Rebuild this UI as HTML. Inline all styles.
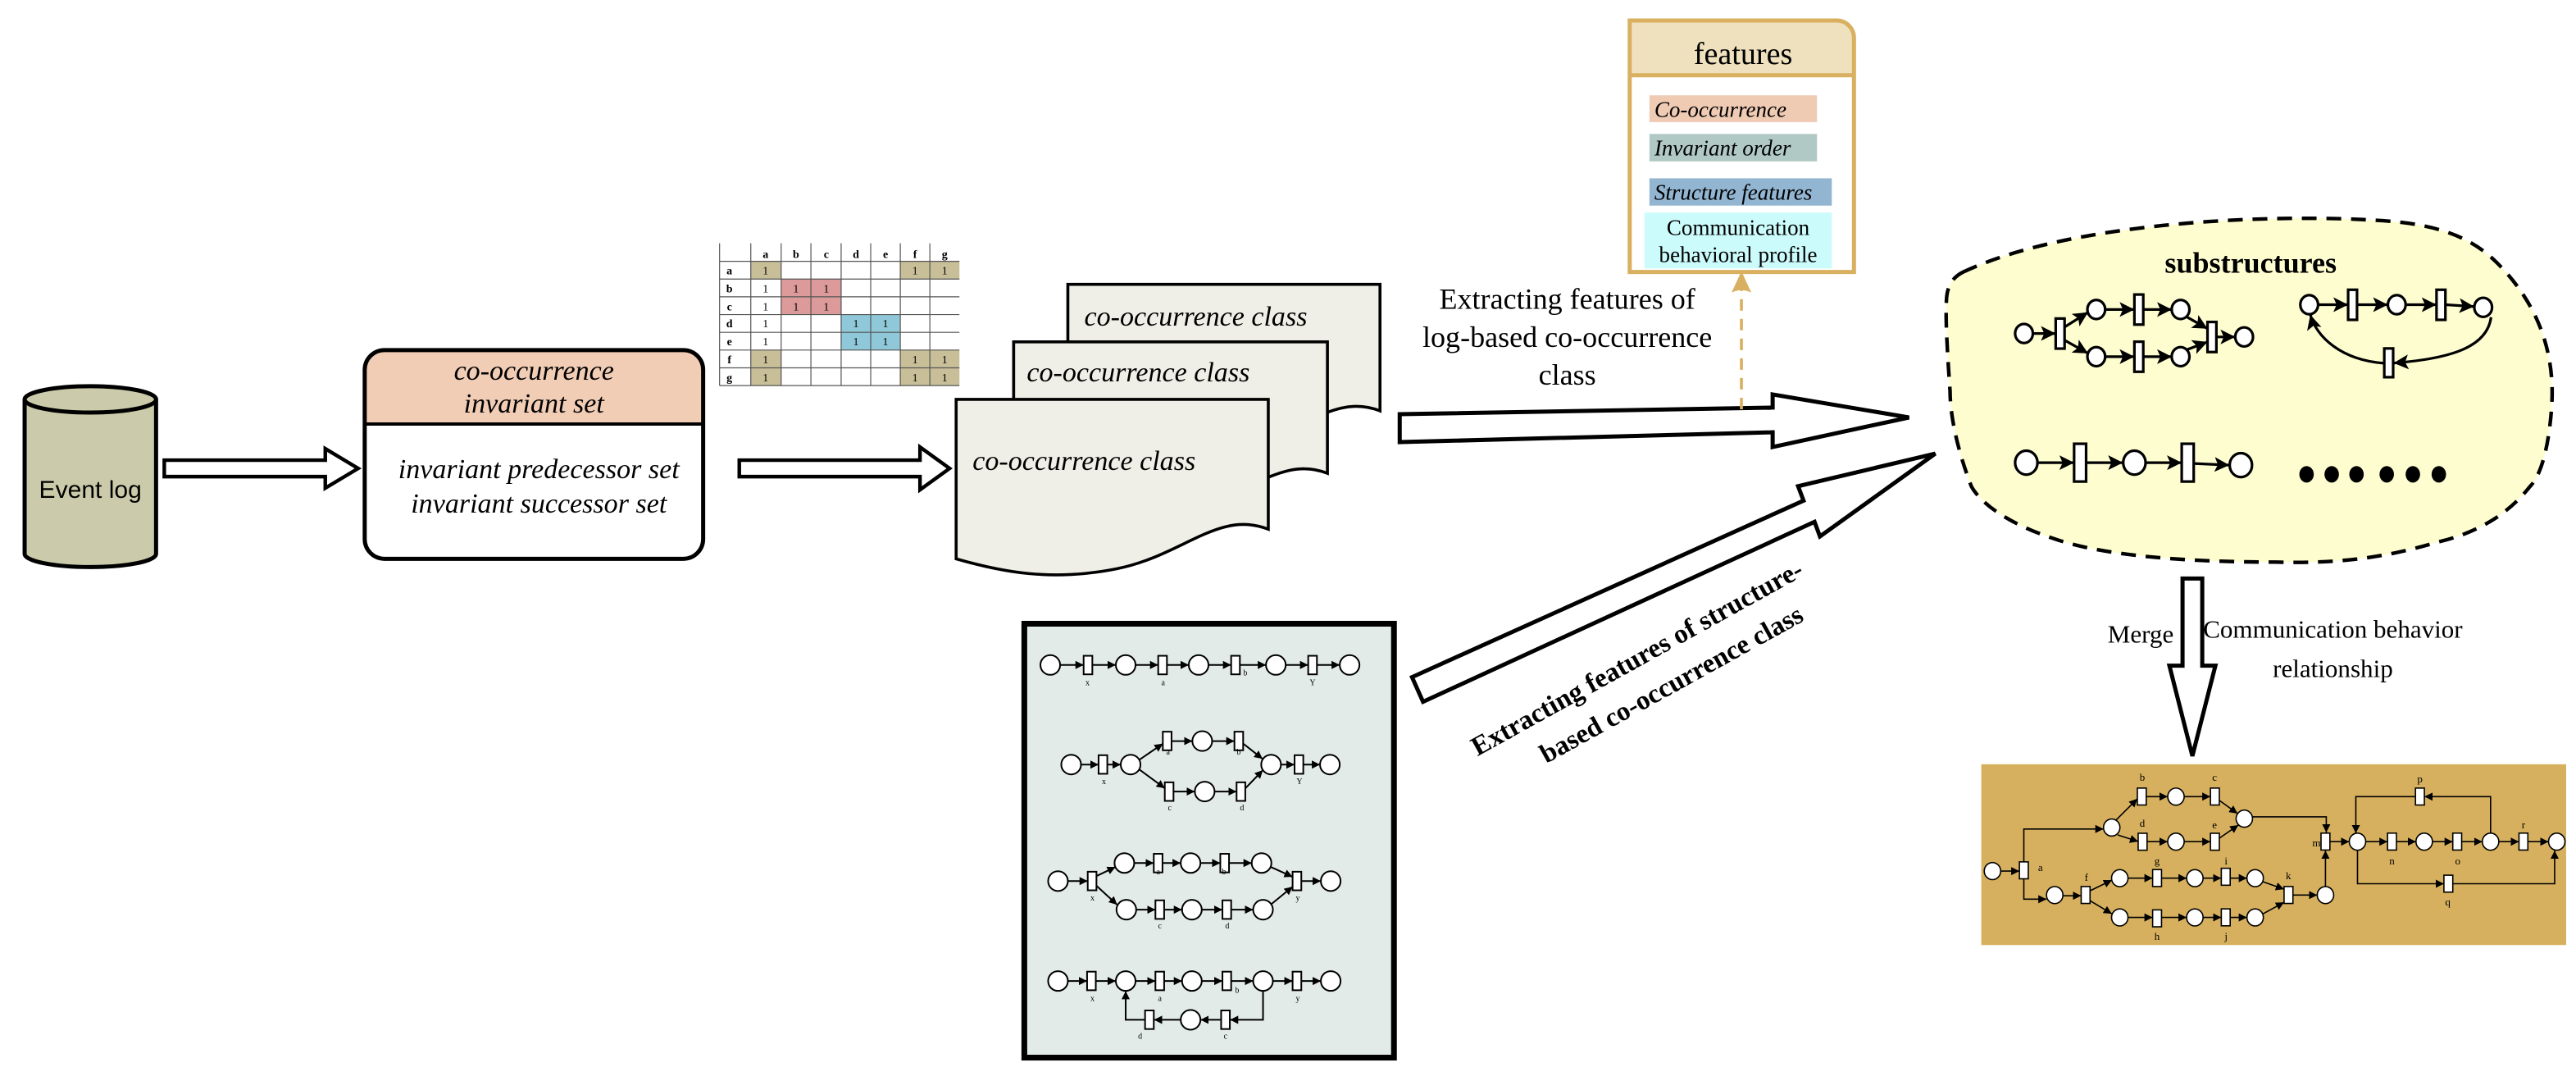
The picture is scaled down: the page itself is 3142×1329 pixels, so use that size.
<!DOCTYPE html>
<html><head><meta charset="utf-8"><style>
html,body{margin:0;padding:0;background:#fff;}
svg{display:block;}
text{font-family:"Liberation Serif",serif;}
.s{font-family:"Liberation Sans",sans-serif;}
</style></head><body>
<svg width="3142" height="1329" viewBox="0 0 1568 663.2" preserveAspectRatio="none" xmlns="http://www.w3.org/2000/svg">
<defs>
<marker id="m" markerUnits="userSpaceOnUse" markerWidth="6" markerHeight="6" refX="5" refY="3" orient="auto"><path d="M0,0.5 L5,3 L0,5.5Z" fill="#000"/></marker>
<marker id="mb" markerUnits="userSpaceOnUse" markerWidth="10" markerHeight="10" refX="9" refY="5" orient="auto"><path d="M0,0.5 L9,5 L0,9.5 L2,5Z" fill="#000"/></marker>
</defs>
<rect width="1568" height="663.2" fill="#fff"/>

<!-- Event log cylinder -->
<path d="M15,243 V337 A40,8 0 0 0 95,337 V243" fill="#cbcbab" stroke="#000" stroke-width="2.5"/>
<ellipse cx="55" cy="243" rx="40" ry="8" fill="#cbcbab" stroke="#000" stroke-width="2.5"/>
<text x="55" y="303" class="s" font-size="15" text-anchor="middle">Event log</text>

<polygon points="100,280 198,280 198,273 218,285 198,297 198,290 100,290" fill="#fff" stroke="#000" stroke-width="2.2"/>

<!-- co-occurrence box -->
<path d="M234,213 H416 A12,12 0 0 1 428,225 V258 H222 V225 A12,12 0 0 1 234,213Z" fill="#f2cdb6"/>
<rect x="222" y="213" width="206" height="127" rx="12" fill="none" stroke="#000" stroke-width="2.5"/>
<line x1="222" y1="258" x2="428" y2="258" stroke="#000" stroke-width="2"/>
<text x="325" y="231" font-size="17" font-style="italic" text-anchor="middle">co-occurrence</text>
<text x="325" y="251" font-size="17" font-style="italic" text-anchor="middle">invariant set</text>
<text x="328" y="291" font-size="17" font-style="italic" text-anchor="middle">invariant predecessor set</text>
<text x="328" y="312" font-size="17" font-style="italic" text-anchor="middle">invariant successor set</text>

<!-- matrix -->
<g>
<rect x="457" y="159" width="18.5" height="10.8" fill="#c8bf98"/>
<rect x="457" y="213" width="18.5" height="21.6" fill="#c8bf98"/>
<rect x="548" y="159" width="36" height="10.8" fill="#c8bf98"/>
<rect x="475.5" y="169.8" width="36.5" height="21.6" fill="#dc9a9a"/>
<rect x="512" y="191.4" width="36" height="21.6" fill="#8fc8d8"/>
<rect x="548" y="213" width="36" height="21.6" fill="#c8bf98"/>
<g stroke="#555" stroke-width="0.6">
<line x1="438" y1="148" x2="438" y2="234.6"/><line x1="457" y1="148" x2="457" y2="234.6"/><line x1="475.5" y1="148" x2="475.5" y2="234.6"/><line x1="493.6" y1="148" x2="493.6" y2="234.6"/><line x1="512" y1="148" x2="512" y2="234.6"/><line x1="530" y1="148" x2="530" y2="234.6"/><line x1="548" y1="148" x2="548" y2="234.6"/><line x1="566" y1="148" x2="566" y2="234.6"/>
<line x1="438" y1="159" x2="584" y2="159"/><line x1="438" y1="169.8" x2="584" y2="169.8"/><line x1="438" y1="180.6" x2="584" y2="180.6"/><line x1="438" y1="191.4" x2="584" y2="191.4"/><line x1="438" y1="202.2" x2="584" y2="202.2"/><line x1="438" y1="213" x2="584" y2="213"/><line x1="438" y1="223.8" x2="584" y2="223.8"/><line x1="438" y1="234.6" x2="584" y2="234.6"/>
</g>
<g font-size="7" font-weight="bold" text-anchor="middle">
<text x="466" y="157">a</text><text x="484.5" y="157">b</text><text x="503" y="157">c</text><text x="521" y="157">d</text><text x="539" y="157">e</text><text x="557" y="157">f</text><text x="575" y="157">g</text>
<text x="444" y="167">a</text><text x="444" y="178">b</text><text x="444" y="189">c</text><text x="444" y="199">d</text><text x="444" y="210">e</text><text x="444" y="221">f</text><text x="444" y="232">g</text>
</g>
<g font-size="7" text-anchor="middle">
<text x="466" y="167">1</text><text x="557" y="167">1</text><text x="575" y="167">1</text>
<text x="466" y="178">1</text><text x="484.5" y="178">1</text><text x="503" y="178">1</text>
<text x="466" y="189">1</text><text x="484.5" y="189">1</text><text x="503" y="189">1</text>
<text x="466" y="199">1</text><text x="521" y="199">1</text><text x="539" y="199">1</text>
<text x="466" y="210">1</text><text x="521" y="210">1</text><text x="539" y="210">1</text>
<text x="466" y="221">1</text><text x="557" y="221">1</text><text x="575" y="221">1</text>
<text x="466" y="232">1</text><text x="557" y="232">1</text><text x="575" y="232">1</text>
</g>
</g>

<polygon points="450,280 560,280 560,272 578,285 560,298 560,290 450,290" fill="#fff" stroke="#000" stroke-width="2.2"/>

<!-- documents -->
<path d="M650,173 H840 V250 C810,238 790,268 745,272 C700,276 670,268 650,262 Z" fill="#efefe7" stroke="#000" stroke-width="1.8"/>
<text x="660" y="198" font-size="17" font-style="italic">co-occurrence class</text>
<path d="M617,208 H808 V288 C778,276 758,306 712,310 C668,314 640,305 617,298 Z" fill="#efefe7" stroke="#000" stroke-width="1.8"/>
<text x="625" y="232" font-size="17" font-style="italic">co-occurrence class</text>
<path d="M582,243 H772 V322 C742,310 720,338 680,346 C640,354 610,348 582,340 Z" fill="#efefe7" stroke="#000" stroke-width="1.8"/>
<text x="592" y="286" font-size="17" font-style="italic">co-occurrence class</text>

<!-- big arrow 1 -->
<polygon points="852,252 1079,248 1079,240 1162,254 1079,272 1079,263 852,269" fill="#fff" stroke="#000" stroke-width="2.5"/>
<text x="954" y="188" font-size="18" text-anchor="middle">Extracting features of</text>
<text x="954" y="211" font-size="18" text-anchor="middle">log-based co-occurrence</text>
<text x="954" y="234" font-size="18" text-anchor="middle">class</text>
<line x1="1060" y1="249" x2="1060" y2="176" stroke="#d8b060" stroke-width="1.8" stroke-dasharray="7,5"/>
<path d="M1060,165 L1066,178 Q1060,175 1054,178Z" fill="#d8b060"/>

<!-- features -->
<path d="M992,12.5 H1118 A10.5,10.5 0 0 1 1128.5,23 V45.8 H992Z" fill="#efe1bd"/>
<path d="M992,12.5 H1118 A10.5,10.5 0 0 1 1128.5,23 V165.5 H992Z" fill="none" stroke="#d8b060" stroke-width="2.5"/>
<line x1="992" y1="45.8" x2="1128.5" y2="45.8" stroke="#d8b060" stroke-width="2.5"/>
<text x="1061" y="39" font-size="19" text-anchor="middle">features</text>
<rect x="1004" y="58" width="102" height="16.3" fill="#f0cbb4"/>
<text x="1007" y="71" font-size="13.5" font-style="italic">Co-occurrence</text>
<rect x="1004" y="81.5" width="102" height="16.7" fill="#b0c9c4"/>
<text x="1007" y="94.5" font-size="13.5" font-style="italic">Invariant order</text>
<rect x="1004" y="108.5" width="111" height="16.6" fill="#92b5d2"/>
<text x="1007" y="121.5" font-size="13.5" font-style="italic">Structure features</text>
<rect x="1001" y="129.3" width="114" height="34" fill="#ccfbfb"/>
<text x="1058" y="143" font-size="13.5" text-anchor="middle">Communication</text>
<text x="1058" y="159.5" font-size="13.5" text-anchor="middle">behavioral profile</text>

<!-- diagonal arrow -->
<polygon points="859.5,412 1097.8,304.6 1094.5,295.8 1178,276 1107.8,326.4 1104.5,317.5 866.2,427" fill="#fff" stroke="#000" stroke-width="2.5"/>
<text transform="translate(999,405) rotate(-29)" font-size="16.5" font-weight="bold" text-anchor="middle">Extracting features of structure-</text>
<text transform="translate(1020,421) rotate(-29)" font-size="16.5" font-weight="bold" text-anchor="middle">based co-occurrence class</text>

<!-- petri box -->
<rect x="623.5" y="379.5" width="225" height="264" fill="#e3ebe8" stroke="#000" stroke-width="3.5"/>
<g stroke="#000" stroke-width="1" fill="#fff">
<!-- net1 -->
<g fill="none" marker-end="url(#m)">
<line x1="645.3" y1="404.6" x2="659.6" y2="404.6"/><line x1="665" y1="404.6" x2="679.2" y2="404.6"/>
<line x1="691.2" y1="404.6" x2="705" y2="404.6"/><line x1="710.4" y1="404.6" x2="723.6" y2="404.6"/>
<line x1="735.6" y1="404.6" x2="749.4" y2="404.6"/><line x1="754.8" y1="404.6" x2="770.6" y2="404.6"/>
<line x1="782.6" y1="404.6" x2="796.3" y2="404.6"/><line x1="801.7" y1="404.6" x2="815.5" y2="404.6"/>
</g>
<circle cx="639.3" cy="404.6" r="6"/><circle cx="685.2" cy="404.6" r="6"/><circle cx="729.6" cy="404.6" r="6"/><circle cx="776.6" cy="404.6" r="6"/><circle cx="821.5" cy="404.6" r="6"/>
<rect x="659.6" y="399" width="5.3" height="11.3"/><rect x="705" y="399" width="5.3" height="11.3"/><rect x="749.4" y="399" width="5.3" height="11.3"/><rect x="796.3" y="399" width="5.3" height="11.3"/>
<!-- net2 -->
<g fill="none" marker-end="url(#m)">
<line x1="658" y1="465.2" x2="668.7" y2="465.2"/><line x1="674" y1="465.2" x2="682.2" y2="465.2"/>
<line x1="693.5" y1="462.3" x2="707.8" y2="452.5"/><line x1="693.5" y1="468.2" x2="709" y2="479.6"/>
<line x1="713.2" y1="450.9" x2="725.8" y2="450.9"/><line x1="737.8" y1="450.9" x2="751.4" y2="450.9"/>
<line x1="714.5" y1="481.6" x2="727.3" y2="481.6"/><line x1="739.3" y1="481.6" x2="752.7" y2="481.6"/>
<line x1="756.8" y1="452.5" x2="768.5" y2="461.7"/><line x1="758.1" y1="479.6" x2="768.7" y2="468.6"/>
<line x1="779.7" y1="465.2" x2="788" y2="465.2"/><line x1="793.4" y1="465.2" x2="803.5" y2="465.2"/>
</g>
<circle cx="652" cy="465.2" r="6"/><circle cx="688.2" cy="465.2" r="6"/><circle cx="731.8" cy="450.9" r="6"/><circle cx="733.3" cy="481.6" r="6"/><circle cx="773.7" cy="465.2" r="6"/><circle cx="809.5" cy="465.2" r="6"/>
<rect x="668.7" y="459.5" width="5.3" height="11.3"/><rect x="707.8" y="445.2" width="5.3" height="11.3"/><rect x="751.4" y="445.2" width="5.3" height="11.3"/><rect x="709" y="476" width="5.3" height="11.3"/><rect x="752.7" y="476" width="5.3" height="11.3"/><rect x="788" y="459.5" width="5.3" height="11.3"/>
<!-- net3 -->
<g fill="none" marker-end="url(#m)">
<line x1="650" y1="536.1" x2="662.1" y2="536.1"/>
<line x1="667.5" y1="533" x2="679" y2="527.5"/><line x1="667.5" y1="539" x2="680" y2="550.5"/>
<line x1="690.4" y1="525.1" x2="702.3" y2="525.1"/><line x1="707.7" y1="525.1" x2="718.7" y2="525.1"/><line x1="730.7" y1="525.1" x2="742.8" y2="525.1"/><line x1="748.2" y1="525.1" x2="761.9" y2="525.1"/>
<line x1="691.6" y1="553.5" x2="703.3" y2="553.5"/><line x1="708.7" y1="553.5" x2="719.5" y2="553.5"/><line x1="731.5" y1="553.5" x2="744.1" y2="553.5"/><line x1="749.5" y1="553.5" x2="762.8" y2="553.5"/>
<line x1="773.5" y1="527.5" x2="786.8" y2="533.5"/><line x1="774" y1="550" x2="786.8" y2="539.5"/>
<line x1="792.2" y1="536.1" x2="804" y2="536.1"/>
</g>
<circle cx="644" cy="536.1" r="6"/><circle cx="684.4" cy="525.1" r="6"/><circle cx="724.7" cy="525.1" r="6"/><circle cx="767.9" cy="525.1" r="6"/><circle cx="685.6" cy="553.5" r="6"/><circle cx="725.5" cy="553.5" r="6"/><circle cx="768.8" cy="553.5" r="6"/><circle cx="810" cy="536.1" r="6"/>
<rect x="662.1" y="530.4" width="5.3" height="11.3"/><rect x="702.3" y="519.5" width="5.3" height="11.3"/><rect x="742.8" y="519.5" width="5.3" height="11.3"/><rect x="703.3" y="547.8" width="5.3" height="11.3"/><rect x="744.1" y="547.8" width="5.3" height="11.3"/><rect x="786.8" y="530.4" width="5.3" height="11.3"/>
<!-- net4 -->
<g fill="none" marker-end="url(#m)">
<line x1="650" y1="596.9" x2="661.7" y2="596.9"/><line x1="667.1" y1="596.9" x2="679.2" y2="596.9"/>
<line x1="691.2" y1="596.9" x2="703.3" y2="596.9"/><line x1="708.7" y1="596.9" x2="719.5" y2="596.9"/>
<line x1="731.5" y1="596.9" x2="744.1" y2="596.9"/><line x1="749.5" y1="596.9" x2="762.8" y2="596.9"/>
<line x1="774.8" y1="596.9" x2="786.8" y2="596.9"/><line x1="792.2" y1="596.9" x2="804" y2="596.9"/>
<polyline points="768.8,602.9 768.8,620.5 748.7,620.5"/><line x1="743.3" y1="620.5" x2="730.7" y2="620.5"/><line x1="718.7" y1="620.5" x2="702.4" y2="620.5"/>
<polyline points="697,620.5 685.2,620.5 685.2,603"/>
</g>
<circle cx="644" cy="596.9" r="6"/><circle cx="685.2" cy="596.9" r="6"/><circle cx="725.5" cy="596.9" r="6"/><circle cx="768.8" cy="596.9" r="6"/><circle cx="810" cy="596.9" r="6"/><circle cx="724.7" cy="620.5" r="6"/>
<rect x="661.7" y="591.2" width="5.3" height="11.3"/><rect x="703.3" y="591.2" width="5.3" height="11.3"/><rect x="744.1" y="591.2" width="5.3" height="11.3"/><rect x="786.8" y="591.2" width="5.3" height="11.3"/><rect x="743.3" y="614.8" width="5.3" height="11.3"/><rect x="697" y="614.8" width="5.3" height="11.3"/>
</g>
<g class="s" font-size="5" text-anchor="middle" fill="#000">
<text x="662" y="417">x</text><text x="708" y="417">a</text><text x="758" y="411">b</text><text x="799" y="417">Y</text>
<text x="711" y="459">a</text><text x="754" y="459">b</text><text x="672" y="477">x</text><text x="712" y="493">c</text><text x="756" y="493">d</text><text x="791" y="477">Y</text>
<text x="705" y="532">a</text><text x="745" y="532">b</text><text x="665" y="548">x</text><text x="706" y="565">c</text><text x="747" y="565">d</text><text x="790" y="548">y</text>
<text x="665" y="609">x</text><text x="706" y="609">a</text><text x="753" y="604">b</text><text x="790" y="609">y</text><text x="694" y="632">d</text><text x="746" y="632">c</text>
</g>

<!-- substructures blob -->
<path d="M1195,165.5 C1260,135 1380,130 1446,134 C1485,136 1505,145 1520,160 C1545,185 1556,215 1553,250 C1551,275 1546,290 1540,296 C1525,315 1505,325 1483,330 C1450,340 1420,343 1385,342 C1330,342 1280,338 1251,328 C1220,318 1205,305 1200,296 C1190,270 1187,250 1187,238 C1185,210 1184,190 1185,180 C1186,172 1190,168 1195,165.5Z" fill="#fefdd0" stroke="#000" stroke-width="2.2" stroke-dasharray="9,6"/>
<text x="1370" y="166" font-size="18" font-weight="bold" text-anchor="middle">substructures</text>
<g stroke="#000" stroke-width="1.6" fill="none" marker-end="url(#mb)">
<line x1="1237.4" y1="202.9" x2="1251.3" y2="202.9"/>
<line x1="1256.7" y1="199" x2="1271" y2="190"/><line x1="1256.7" y1="207" x2="1271" y2="215"/>
<line x1="1281.4" y1="188.3" x2="1299.2" y2="188.3"/><line x1="1304.6" y1="188.3" x2="1322" y2="188.3"/>
<line x1="1281.4" y1="217" x2="1299.2" y2="217"/><line x1="1304.6" y1="217" x2="1322" y2="217"/>
<line x1="1330.5" y1="192.5" x2="1343.7" y2="200"/><line x1="1330.5" y1="213" x2="1343.7" y2="208"/>
<line x1="1349.1" y1="205" x2="1360.6" y2="205"/>
<line x1="1411" y1="185.4" x2="1429.3" y2="185.4"/><line x1="1434.7" y1="185.4" x2="1453.5" y2="185.4"/>
<line x1="1464.3" y1="185.4" x2="1483.1" y2="185.4"/><line x1="1488.5" y1="185.4" x2="1506" y2="186.5"/>
<path d="M1516.3,193 C1514,210 1495,218 1457,220.9"/>
<path d="M1451,221 C1425,219 1410,205 1406.3,191.5"/>
<line x1="1240.4" y1="281.5" x2="1262.5" y2="281.5"/><line x1="1270" y1="281.5" x2="1292.2" y2="281.5"/>
<line x1="1306.2" y1="281.5" x2="1328" y2="281.5"/><line x1="1335.4" y1="282" x2="1357" y2="283"/>
</g>
<g stroke="#000" stroke-width="1.6" fill="#fff">
<ellipse cx="1232" cy="202.9" rx="5.4" ry="5.8"/><rect x="1251.3" y="193.8" width="5.4" height="18.3"/>
<ellipse cx="1276" cy="188.3" rx="5.4" ry="5.8"/><rect x="1299.2" y="179.2" width="5.4" height="18.3"/><ellipse cx="1327.3" cy="188.3" rx="5.4" ry="5.8"/>
<ellipse cx="1276" cy="217" rx="5.4" ry="5.8"/><rect x="1299.2" y="207.9" width="5.4" height="18.3"/><ellipse cx="1327.3" cy="217" rx="5.4" ry="5.8"/>
<rect x="1343.7" y="195.9" width="5.4" height="18.3"/><ellipse cx="1366" cy="205" rx="5.4" ry="5.8"/>
<ellipse cx="1405.6" cy="185.4" rx="5.4" ry="5.8"/><rect x="1429.3" y="176.3" width="5.4" height="18.3"/><ellipse cx="1458.9" cy="185.4" rx="5.4" ry="5.8"/><rect x="1483.1" y="176.3" width="5.4" height="18.3"/><ellipse cx="1511.5" cy="187" rx="5.4" ry="5.8"/>
<rect x="1451.3" y="212" width="5.4" height="17.5"/>
<ellipse cx="1233.4" cy="281.5" rx="6.8" ry="7.3"/><rect x="1262.5" y="270" width="7.3" height="23"/><ellipse cx="1299.2" cy="281.5" rx="6.8" ry="7.3"/><rect x="1328" y="270" width="7.3" height="23"/><ellipse cx="1364" cy="283" rx="6.8" ry="7.3"/>
</g>
<g fill="#000">
<ellipse cx="1404" cy="288.6" rx="4.4" ry="5"/><ellipse cx="1419.3" cy="288.6" rx="4.4" ry="5"/><ellipse cx="1434.4" cy="288.6" rx="4.4" ry="5"/><ellipse cx="1452.8" cy="288.6" rx="4.4" ry="5"/><ellipse cx="1468.7" cy="288.6" rx="4.4" ry="5"/><ellipse cx="1484.5" cy="288.6" rx="4.4" ry="5"/>
</g>

<!-- down arrow -->
<polygon points="1328.5,352 1340.5,352 1340.5,405 1348.5,405 1334.5,460 1320.5,405 1328.5,405" fill="#fff" stroke="#000" stroke-width="2.5"/>
<text x="1303" y="391" font-size="15.5" text-anchor="middle">Merge</text>
<text x="1420" y="388" font-size="15.5" text-anchor="middle">Communication behavior</text>
<text x="1420" y="412" font-size="15.5" text-anchor="middle">relationship</text>

<!-- big petri net -->
<rect x="1206" y="465" width="356" height="110" fill="#d6b05e"/>
<g stroke="#000" stroke-width="0.8" fill="none" marker-end="url(#m)">
<line x1="1217.8" y1="530" x2="1229.2" y2="530"/>
<polyline points="1231.9,524.4 1231.9,504.4 1280.4,504.4"/>
<polyline points="1231.9,534.7 1231.9,547.1 1245.7,547.1"/>
<line x1="1255.7" y1="545" x2="1266.8" y2="545"/>
<line x1="1288" y1="499" x2="1301" y2="486"/><line x1="1289" y1="508" x2="1301.5" y2="512"/>
<line x1="1306.4" y1="484.7" x2="1319.5" y2="484.7"/><line x1="1329.5" y1="484.7" x2="1345.5" y2="484.7"/>
<line x1="1306.9" y1="512.1" x2="1319.5" y2="512.1"/><line x1="1329.5" y1="512.1" x2="1345.5" y2="512.1"/>
<line x1="1350.9" y1="487" x2="1362" y2="495"/><line x1="1350.9" y1="510" x2="1362.5" y2="502"/>
<polyline points="1371,497 1416,497 1416,506.5"/>
<line x1="1272.2" y1="542" x2="1285.5" y2="535.5"/><line x1="1272.2" y1="548" x2="1285.5" y2="556"/>
<line x1="1295.3" y1="534.3" x2="1310.3" y2="534.3"/><line x1="1315.7" y1="534.3" x2="1331" y2="534.3"/><line x1="1341" y1="534.3" x2="1352.1" y2="534.3"/><line x1="1357.5" y1="534.3" x2="1367.7" y2="534.3"/>
<line x1="1295.3" y1="558.2" x2="1310.3" y2="558.2"/><line x1="1315.7" y1="558.2" x2="1331" y2="558.2"/><line x1="1341" y1="558.2" x2="1352.1" y2="558.2"/><line x1="1357.5" y1="558.2" x2="1367.7" y2="558.2"/>
<line x1="1377.5" y1="536.5" x2="1390.3" y2="541"/><line x1="1377.5" y1="556" x2="1390.3" y2="549"/>
<line x1="1395.7" y1="544.6" x2="1410.5" y2="544.6"/>
<line x1="1415.5" y1="539.6" x2="1415.5" y2="517.5"/>
<line x1="1418.2" y1="512.1" x2="1430" y2="512.1"/>
<line x1="1440" y1="512.1" x2="1453.3" y2="512.1"/><line x1="1458.7" y1="512.1" x2="1470.6" y2="512.1"/><line x1="1480.6" y1="512.1" x2="1493" y2="512.1"/><line x1="1498.4" y1="512.1" x2="1511" y2="512.1"/><line x1="1521" y1="512.1" x2="1533.3" y2="512.1"/><line x1="1538.7" y1="512.1" x2="1551.3" y2="512.1"/>
<polyline points="1516,507 1516,484.7 1475.7,484.7"/>
<polyline points="1470.3,484.7 1434,484.7 1434,507"/>
<polyline points="1435,517 1435,537.7 1487.6,537.7"/>
<polyline points="1493,537.7 1555,537.7 1555,517.5"/>
</g>
<g stroke="#000" stroke-width="0.8" fill="#fff">
<ellipse cx="1212.8" cy="530" rx="5" ry="5.2"/><rect x="1229.2" y="524.4" width="5.4" height="10.3"/>
<ellipse cx="1285.4" cy="503.5" rx="5" ry="5.2"/><ellipse cx="1250.7" cy="544.6" rx="5" ry="5.2"/>
<rect x="1301" y="479.5" width="5.4" height="10.3"/><ellipse cx="1324.5" cy="484.7" rx="5" ry="5.2"/><rect x="1345.5" y="479.5" width="5.4" height="10.3"/>
<rect x="1301.5" y="507" width="5.4" height="10.3"/><ellipse cx="1324.5" cy="512.1" rx="5" ry="5.2"/><rect x="1345.5" y="507" width="5.4" height="10.3"/>
<ellipse cx="1366.1" cy="498.1" rx="5" ry="5.2"/>
<rect x="1266.8" y="539.4" width="5.4" height="10.3"/>
<ellipse cx="1290.3" cy="534.3" rx="5" ry="5.2"/><rect x="1310.3" y="529.1" width="5.4" height="10.3"/><ellipse cx="1336" cy="534.3" rx="5" ry="5.2"/><rect x="1352.1" y="528.3" width="5.4" height="10.3"/><ellipse cx="1372.7" cy="534.3" rx="5" ry="5.2"/>
<ellipse cx="1290.3" cy="558.2" rx="5" ry="5.2"/><rect x="1310.3" y="553.6" width="5.4" height="10.3"/><ellipse cx="1336" cy="558.2" rx="5" ry="5.2"/><rect x="1352.1" y="553" width="5.4" height="10.3"/><ellipse cx="1372.7" cy="558.2" rx="5" ry="5.2"/>
<rect x="1390.3" y="539.4" width="5.4" height="10.3"/><ellipse cx="1415.5" cy="544.6" rx="5" ry="5.2"/>
<rect x="1412.8" y="506.9" width="5.4" height="10.3"/>
<ellipse cx="1435" cy="512.1" rx="5" ry="5.2"/><rect x="1453.3" y="506.9" width="5.4" height="10.3"/><ellipse cx="1475.6" cy="512.1" rx="5" ry="5.2"/><rect x="1493" y="506.9" width="5.4" height="10.3"/><ellipse cx="1516" cy="512.1" rx="5" ry="5.2"/><rect x="1533.3" y="506.9" width="5.4" height="10.3"/><ellipse cx="1556.3" cy="512.1" rx="5" ry="5.2"/>
<rect x="1470.3" y="479.5" width="5.4" height="10.3"/><rect x="1487.6" y="532.5" width="5.4" height="10.3"/>
</g>
<g class="s" font-size="6.5" text-anchor="middle" fill="#000">
<text x="1242" y="530">a</text><text x="1304" y="475">b</text><text x="1348" y="475">c</text><text x="1304" y="503">d</text><text x="1348" y="504">e</text>
<text x="1270" y="536">f</text><text x="1313" y="526">g</text><text x="1355" y="526">i</text><text x="1313" y="572">h</text><text x="1355" y="572">j</text><text x="1393" y="535">k</text>
<text x="1410" y="515">m</text><text x="1456" y="526">n</text><text x="1496" y="526">o</text><text x="1473" y="476">p</text><text x="1490" y="551">q</text><text x="1536" y="504">r</text>
</g>
</svg>
</body></html>
